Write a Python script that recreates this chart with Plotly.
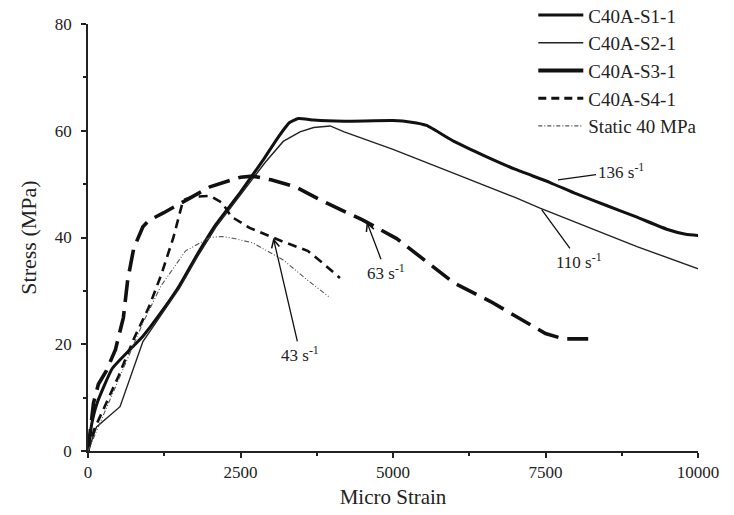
import plotly.graph_objects as go

# ---- data ----
s1_x = [0, 60, 150, 400, 900, 1200, 1500, 1800, 2100, 2500, 2870, 3100, 3300, 3450, 3700, 4200, 5000, 5300, 5550, 6000, 6500, 7000, 7575, 8000, 8500, 9000, 9500, 9800, 10200]
s1_y = [0, 5, 9, 15.5, 21.5, 26, 31, 37, 42.5, 48.5, 54.5, 58.5, 61.5, 62.3, 62.0, 61.8, 61.9, 61.6, 61.0, 58.0, 55.3, 52.8, 50.3, 48.2, 46.0, 43.8, 41.5, 40.6, 40.2]

s2_x = [0, 140, 525, 900, 1200, 1500, 1800, 2100, 2500, 2900, 3200, 3475, 3700, 3970, 4200, 5000, 6000, 7000, 7410, 8000, 9000, 10200]
s2_y = [0, 4.5, 8.3, 20.5, 25.5, 30.5, 36.5, 42, 48, 54, 58, 59.8, 60.6, 60.9, 59.8, 56.5, 52.0, 47.5, 45.5, 42.8, 38.3, 33.3]

s3_x = [0, 90, 170, 300, 450, 580, 650, 750, 900, 1000, 1235, 1617, 2000, 2500, 2700, 3000, 3400, 3850, 4500, 5060, 5600, 6000, 6600, 7200, 7500, 7800, 8200]
s3_y = [0, 9, 12.5, 15, 19, 25, 32, 38, 42, 43.2, 44.6, 47, 49.5, 51.3, 51.5, 50.8, 49.5, 46.8, 43.3, 39.8, 35, 31.5, 28, 24, 22, 21, 21]

s4_x = [0, 100, 300, 500, 750, 1000, 1200, 1400, 1560, 1700, 2000, 2200, 2350, 2650, 3200, 3600, 3850, 4130]
s4_y = [0, 4, 9, 14, 21, 27, 33, 40, 47, 47.6, 47.8, 46.5, 43.9, 41.8, 39.2, 37.5, 35.2, 32.4]

st_x = [0, 300, 600, 900, 1200, 1600, 2000, 2200, 2400, 2700, 3200, 3600, 3970]
st_y = [0, 8, 16, 24, 31, 37.5, 40, 40.2, 39.8, 39, 35.8, 32, 28.7]

names = ["C40A-S1-1", "C40A-S2-1", "C40A-S3-1", "C40A-S4-1", "Static 40 MPa"]

x_ticks = [0, 2500, 5000, 7500, 10000]
y_ticks = [0, 20, 40, 60, 80]

# rate labels: (text, tip x, tip y, text x, text y, arrowhead)
rate_labels = [
    ("136 s<sup>-1</sup>", 7705, 50.8, 8730, 52.4, 0),
    ("110 s<sup>-1</sup>", 7437, 45.2, 8050, 35.6, 0),
    ("63 s<sup>-1</sup>", 4569, 43.0, 4880, 33.6, 5),
    ("43 s<sup>-1</sup>", 3038, 39.9, 3480, 18.2, 5),
]

FONT = "Liberation Serif, Times New Roman, serif"
BLACK = "#111111"

fig = go.Figure()

# data traces (legend shown via legend-only entries below)
fig.add_trace(go.Scatter(x=s1_x, y=s1_y, mode="lines", line=dict(color=BLACK, width=3, shape="spline", smoothing=0.4), showlegend=False, cliponaxis=False))
fig.add_trace(go.Scatter(x=s2_x, y=s2_y, mode="lines", line=dict(color="#222222", width=1.4), showlegend=False, cliponaxis=False))
fig.add_trace(go.Scatter(x=s3_x, y=s3_y, mode="lines", line=dict(color=BLACK, width=3.6, dash="22px,9px"), showlegend=False, cliponaxis=False))
fig.add_trace(go.Scatter(x=s4_x, y=s4_y, mode="lines", line=dict(color=BLACK, width=2.6, dash="9px,6px"), showlegend=False, cliponaxis=False))
fig.add_trace(go.Scatter(x=st_x, y=st_y, mode="lines", line=dict(color="#555555", width=1.1, dash="5px,2px,1px,2px,1px,2px"), showlegend=False, cliponaxis=False))

# legend entries (styles as drawn in the reference legend)
leg_styles = [
    dict(color=BLACK, width=3),
    dict(color="#222222", width=1.4),
    dict(color=BLACK, width=4),
    dict(color=BLACK, width=3, dash="8px,5px"),
    dict(color="#555555", width=1.1, dash="4px,2px,1px,2px"),
]
for nm, st in zip(names, leg_styles):
    fig.add_trace(go.Scatter(x=[None], y=[None], mode="lines", name=nm, line=st))

for txt, x, y, tx, ty, ah in rate_labels:
    fig.add_annotation(x=x, y=y, ax=tx, ay=ty, axref="x", ayref="y", xref="x", yref="y",
                       text=txt, showarrow=True, arrowhead=ah, arrowsize=1.2, arrowwidth=1.3,
                       arrowcolor=BLACK, font=dict(family=FONT, size=17, color="#222222"),
                       standoff=0, startstandoff=0)

axis_common = dict(showline=True, linecolor="#222222", linewidth=1.8, ticks="outside",
                   ticklen=5, tickwidth=1.5, tickcolor="#222222", showgrid=False, zeroline=False,
                   tickfont=dict(family=FONT, size=17, color="#222222"),
                   mirror=False)

fig.update_xaxes(range=[0, 10000], tickvals=x_ticks, ticktext=[str(v) for v in x_ticks],
                 title=dict(text="Micro Strain", font=dict(family=FONT, size=21, color="#222222"), standoff=8),
                 minor=dict(dtick=1250, ticklen=3, tickwidth=1.5, tickcolor="#222222", ticks="outside"),
                 **axis_common)
fig.update_yaxes(range=[0, 80], tickvals=y_ticks, ticktext=[str(v) for v in y_ticks],
                 title=dict(text="Stress (MPa)", font=dict(family=FONT, size=22, color="#222222"), standoff=12),
                 minor=dict(dtick=10, ticklen=3, tickwidth=1.5, tickcolor="#222222", ticks="outside"),
                 ticklabelstandoff=6,
                 **axis_common)

fig.update_layout(
    width=734, height=515,
    margin=dict(l=88, r=36, t=24, b=64, autoexpand=False),
    paper_bgcolor="white", plot_bgcolor="white",
    font=dict(family=FONT, color="#222222"),
    legend=dict(x=0.73, y=1.065, xanchor="left", yanchor="top",
                font=dict(family=FONT, size=19, color="#222222"),
                bgcolor="rgba(0,0,0,0)", itemwidth=45, tracegroupgap=0),
)

fig.write_html("out.html")
